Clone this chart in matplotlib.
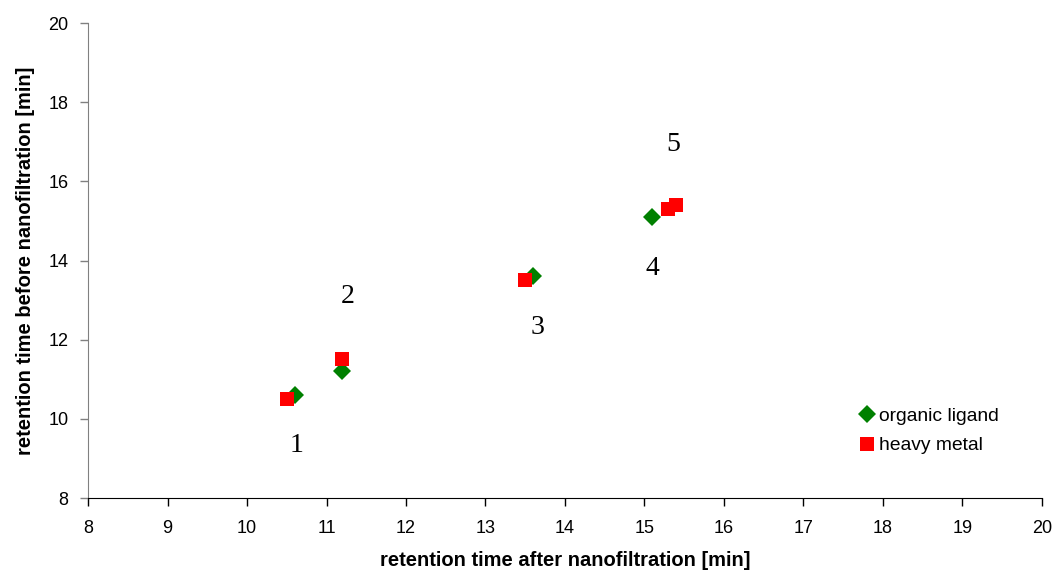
import matplotlib.pyplot as plt

# retention times [min]: after / before nanofiltration
ligand_after = [10.6, 11.2, 13.6, 15.1]
ligand_before = [10.6, 11.2, 13.6, 15.1]
metal_after = [10.5, 11.2, 13.5, 15.3, 15.4]
metal_before = [10.5, 11.5, 13.5, 15.3, 15.4]

# peak numbers and where they are written
peak_labels = ["1", "2", "3", "4", "5"]
label_x = [10.62, 11.27, 13.66, 15.1, 15.36]
label_y = [9.32, 13.08, 12.32, 13.79, 16.94]

plt.rcParams["font.family"] = ["Liberation Sans", "DejaVu Sans"]

fig = plt.figure(figsize=(10.54, 5.70), dpi=100)
ax = fig.add_axes([0.0835, 0.1263, 0.9051, 0.8333])

ax.plot(ligand_after, ligand_before, "D", color="#008000", markersize=9,
        markeredgewidth=0, label="organic ligand", zorder=3)
ax.plot(metal_after, metal_before, "s", color="#ff0000", markersize=9.5,
        markeredgewidth=0, label="heavy metal", zorder=3)

for t, x, y in zip(peak_labels, label_x, label_y):
    ax.text(x, y, t, ha="center", va="center", fontsize=20,
            family="Liberation Serif")

ax.set_xlim(8, 20)
ax.set_ylim(8, 20)
ax.set_xticks(range(8, 21))
ax.set_yticks(range(8, 21, 2))
ax.tick_params(labelsize=13, length=6, width=1, direction="out", pad=8)
ax.tick_params(axis="x", pad=10)
ax.tick_params(axis="y", color="#808080")

for s in ["top", "right"]:
    ax.spines[s].set_visible(False)
ax.spines["left"].set_color("#808080")
ax.spines["bottom"].set_color("black")

ax.set_xlabel("retention time after nanofiltration [min]", fontsize=14.5,
              fontweight="bold", labelpad=10)
ax.set_ylabel("retention time before nanofiltration [min]", fontsize=14.5,
              fontweight="bold", labelpad=10)

ax.legend(loc="upper left", bbox_to_anchor=(0.798, 0.207), frameon=False,
          fontsize=13.9, handletextpad=0.15, labelspacing=0.62,
          handlelength=1.0, borderaxespad=0)

fig.savefig("out.png")
